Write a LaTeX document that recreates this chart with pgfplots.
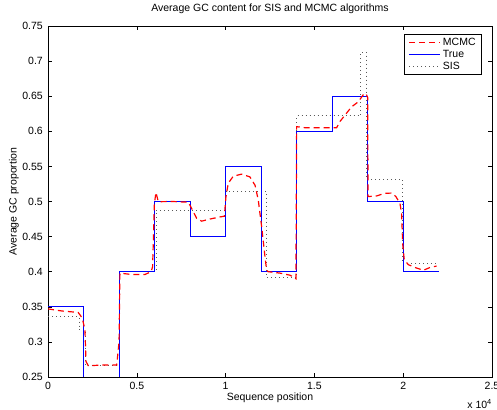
\documentclass[border=0pt]{standalone}
\usepackage{fontspec}
\setmainfont{Liberation Sans}
\usepackage{pgfplots}
\pgfplotsset{compat=1.18}
\begin{document}
\begin{tikzpicture}
\begin{axis}[
  name=ax,
  scale only axis,
  width=444bp, height=351bp,
  xmin=0, xmax=25000, ymin=0.25, ymax=0.75,
  font=\fontsize{10.5bp}{12bp}\selectfont,
  /pgf/number format/assume math mode=true,
  xtick={0,5000,10000,15000,20000,25000},
  xticklabels={0,0.5,1,1.5,2,2.5},
  scaled x ticks=false,
  ytick={0.25,0.3,0.35,0.4,0.45,0.5,0.55,0.6,0.65,0.7,0.75},
  yticklabels={0.25,0.3,0.35,0.4,0.45,0.5,0.55,0.6,0.65,0.7,0.75},
  xticklabel style={inner sep=0pt,anchor=center,yshift=-9bp},
  yticklabel style={inner sep=0pt,anchor=east,xshift=-5bp},
  tick align=inside, major tick length=4bp,
  axis line style={line width=0.8pt},
  tick style={line width=0.6pt,black},
  title={Average GC content for SIS and MCMC algorithms},
  title style={at={([yshift=11bp]rel axis cs:0.5,1)},anchor=center,inner sep=0pt},
  xlabel={Sequence position},
  xlabel style={at={([yshift=-21bp]rel axis cs:0.5,0)},anchor=center,inner sep=0pt},
  ylabel={Average GC proportion},
  ylabel style={at={([xshift=-34bp]rel axis cs:0,0.5)},anchor=center,inner sep=0pt},
  legend style={at={([xshift=-10bp,yshift=-8bp]rel axis cs:1,1)},anchor=north east,
    line width=0.8pt,font=\fontsize{10.5bp}{12bp}\selectfont,
    row sep=-1bp,inner xsep=4bp,inner ysep=2bp},
  legend cell align=left,
  reverse legend,
  legend image code/.code={\draw[#1] (0bp,0bp) -- (31bp,0bp);},
]
\addplot[color=black!65,line width=0.8pt,dash pattern=on 0.8bp off 3.2bp] coordinates {
(0,0.336) (1750,0.336) (1750,0.318) (2080,0.318) (2080,0.267) (4000,0.267) (4000,0.401)
(6100,0.401) (6100,0.488) (10000,0.488) (10000,0.515) (12300,0.515) (12300,0.392)
(14000,0.392) (14000,0.622) (17600,0.622) (17600,0.7125) (17950,0.7125) (17950,0.532)
(19950,0.532) (19950,0.412) (21900,0.412)
};
\addlegendentry{SIS}
\addplot[color=blue,line width=1pt] coordinates {
(0,0.35) (2000,0.35) (2000,0.25) (4000,0.25) (4000,0.40) (6000,0.40) (6000,0.50)
(8000,0.50) (8000,0.45) (10000,0.45) (10000,0.55) (12000,0.55) (12000,0.40)
(14000,0.40) (14000,0.60) (16000,0.60) (16000,0.65) (18000,0.65) (18000,0.50)
(20000,0.50) (20000,0.40) (22000,0.40)
};
\addlegendentry{True}
\addplot[color=red,line width=1.2pt,dash pattern=on 6bp off 4bp] coordinates {
(0,0.347) (800,0.344) (1700,0.342) (1930,0.334) (2080,0.317) (2140,0.272) (2270,0.266)
(3000,0.267) (3870,0.267) (4000,0.30) (4050,0.398) (4710,0.396) (5460,0.396) (5800,0.40)
(5890,0.407) (5990,0.497) (6080,0.513) (6210,0.4997) (7000,0.50) (7900,0.499) (8090,0.49)
(8370,0.476) (8650,0.472) (9120,0.475) (9680,0.478) (9930,0.479) (10020,0.507) (10150,0.526)
(10430,0.536) (10900,0.539) (11370,0.535) (11660,0.523) (11840,0.502) (12030,0.464)
(12220,0.421) (12310,0.402) (12400,0.40) (13060,0.398) (13630,0.395) (13960,0.39)
(14000,0.6066) (14500,0.605) (16250,0.605) (16440,0.614) (16720,0.623) (17100,0.635)
(17470,0.642) (17750,0.652) (17900,0.654) (18000,0.648) (18020,0.507) (18510,0.508)
(18970,0.5117) (19350,0.512) (19590,0.507) (19820,0.497) (19910,0.483) (19970,0.44)
(20060,0.417) (20290,0.41) (20660,0.406) (21130,0.402) (21510,0.406) (21880,0.408)
};
\addlegendentry{MCMC}
\end{axis}
\node[font=\fontsize{10.5bp}{12bp}\selectfont,inner sep=0pt,anchor=base east] at ([yshift=-31bp]ax.south east) {x 10\textsuperscript{4}};
\pgfresetboundingbox
\useasboundingbox ([xshift=-48bp,yshift=-33bp]ax.south west) rectangle ([xshift=449bp,yshift=377bp]ax.south west);
\end{tikzpicture}
\end{document}
